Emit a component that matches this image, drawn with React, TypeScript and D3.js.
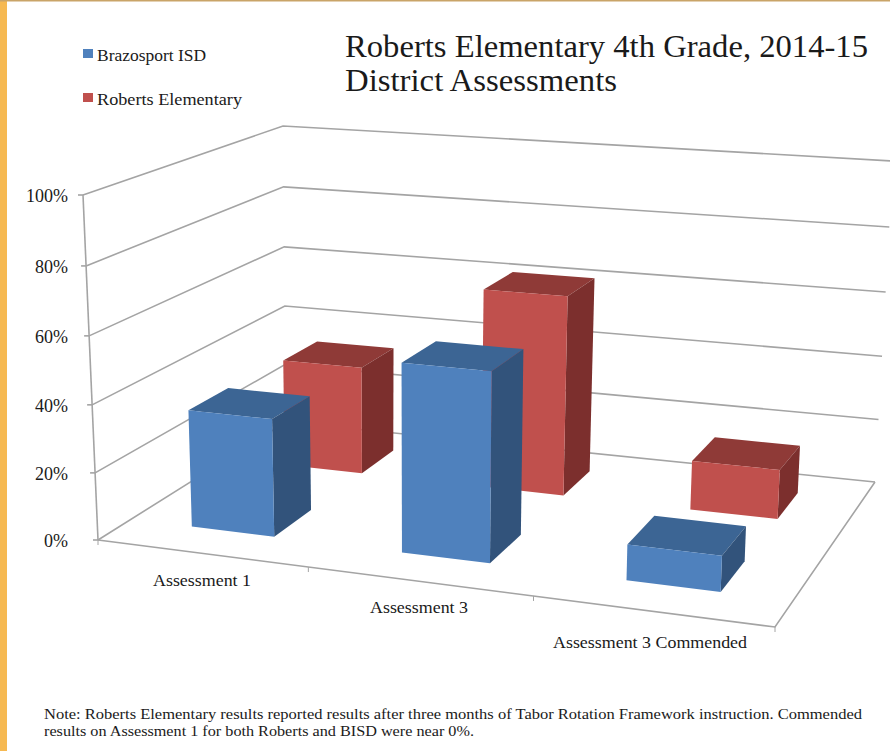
import React from "react";
import * as d3 from "d3";

const categories = ["Assessment 1", "Assessment 3", "Assessment 3 Commended"];
const seriesNames = ["Brazosport ISD", "Roberts Elementary"];
const brazosport = [35, 55, 10.2];
const roberts = [34, 61.8, 15];
const percentTicks = [0, 20, 40, 60, 80, 100];

type P = [number, number];
// Projection of the chart box: floor and ceiling quads [front-left, front-right, back-right, back-left]
const floorQuad: P[] = [[98, 540], [775, 627], [875, 482], [286, 422]];
const ceilQuad: P[] = [[83, 195], [790, 246], [893, 161], [283, 126]];

function homography(q: P[]) {
  const [[x0, y0], [x1, y1], [x2, y2], [x3, y3]] = q;
  const dx1 = x1 - x2, dx2 = x3 - x2, sx = x0 - x1 + x2 - x3;
  const dy1 = y1 - y2, dy2 = y3 - y2, sy = y0 - y1 + y2 - y3;
  const den = dx1 * dy2 - dx2 * dy1;
  const g = (sx * dy2 - dx2 * sy) / den;
  const h = (dx1 * sy - sx * dy1) / den;
  const a = x1 - x0 + g * x1, b = x3 - x0 + h * x3;
  const d = y1 - y0 + g * y1, e = y3 - y0 + h * y3;
  return (u: number, v: number): P => {
    const w = g * u + h * v + 1;
    return [(a * u + b * v + x0) / w, (d * u + e * v + y0) / w];
  };
}
const H0 = homography(floorQuad);
const H1 = homography(ceilQuad);

const heightScale = d3.scaleLinear().domain([0, 100]).range([0, 1]);
const uScale = d3.scaleBand<string>().domain(categories).range([0, 1]).paddingInner(0.6).paddingOuter(0.3);
const vScale = d3.scaleBand<string>().domain(seriesNames).range([0.006, 1.006]).paddingInner(0.6).paddingOuter(0.3);

function project(uRaw: number, v: number, value: number): P {
  const u = uRaw + 0.02 * uRaw * (1 - uRaw);
  const a = H0(u, v), b = H1(u, v);
  const s = heightScale(value);
  const t = s / (1 + 0.035 * (1 - s));
  return [a[0] + (b[0] - a[0]) * t, a[1] + (b[1] - a[1]) * t];
}
const line = d3.line<P>();
const poly = (pts: P[]) => line(pts) + "Z";

const SERIF = "'Liberation Serif', serif";
const GRID = "#a4a4a4";
const palette = [
  { front: "#4f81bd", top: "#3c6594", side: "#32537b" },
  { front: "#c0504d", top: "#8f3a37", side: "#7c2f2d" },
];

function Bar({ cat, series, value }: { cat: string; series: number; value: number }) {
  const u0 = uScale(cat)!, u1 = u0 + uScale.bandwidth();
  const v0 = vScale(seriesNames[series])!, v1 = v0 + vScale.bandwidth();
  const c = palette[series];
  return (
    <g>
      <path d={poly([project(u0, v0, value), project(u1, v0, value), project(u1, v1, value), project(u0, v1, value)])} fill={c.top} />
      <path d={poly([project(u1, v0, 0), project(u1, v1, 0), project(u1, v1, value), project(u1, v0, value)])} fill={c.side} />
      <path d={poly([project(u0, v0, 0), project(u1, v0, 0), project(u1, v0, value), project(u0, v0, value)])} fill={c.front} />
    </g>
  );
}

function Txt(p: { x: number; y: number; size: number; len: number; children: string; anchor?: string }) {
  return (
    <text x={p.x} y={p.y} fontSize={p.size} fontFamily={SERIF} fill="#1a1a1a" textLength={p.len} lengthAdjust="spacingAndGlyphs" textAnchor={p.anchor ?? "start"}>
      {p.children}
    </text>
  );
}

export default function App() {
  const uTicks = [1 / 3, 2 / 3];
  return (
    <svg width={890} height={751} style={{ position: "absolute", left: 0, top: 0, display: "block" }}>
      <rect width={890} height={751} fill="#ffffff" />
      <rect x={0} y={0} width={7} height={751} fill="#f6b952" />
      <rect x={0} y={0} width={890} height={1.5} fill="#c9a468" />

      {/* walls */}
      <g fill="none" stroke={GRID} strokeWidth={1.6}>
        {percentTicks.map((t) => (
          <path key={t} d={line([project(0, 0, t), project(0, 1, t), project(1, 1, t)])!} />
        ))}
        <path d={line([project(0, 0, 0), project(0, 0, 100)])!} />
        <path d={line([project(0, 0, 0), project(1, 0, 0), project(1, 1, 0)])!} />
        {percentTicks.map((t) => {
          const [x, y] = project(0, 0, t);
          return <path key={t} d={`M${x - 5},${y}H${x}`} />;
        })}
        {[0, ...uTicks, 1].map((u) => {
          const [x, y] = project(u, 0, 0);
          return <path key={u} d={`M${x},${y}V${y + 5}`} strokeWidth={1} />;
        })}
      </g>

      {/* bars, back row first */}
      {categories.map((c, i) => <Bar key={c} cat={c} series={1} value={roberts[i]} />)}
      {categories.map((c, i) => <Bar key={c} cat={c} series={0} value={brazosport[i]} />)}

      {/* value labels */}
      {percentTicks.map((t) => {
        const [x, y] = project(0, 0, t);
        return (
          <text key={t} x={68} y={y + 7} fontSize={18} fontFamily={SERIF} fill="#1a1a1a" textAnchor="end">
            {d3.format("d")(t)}%
          </text>
        );
      })}

      {/* category labels */}
      <Txt x={153} y={586} size={17} len={98}>{categories[0]}</Txt>
      <Txt x={370} y={613} size={17} len={98}>{categories[1]}</Txt>
      <Txt x={553} y={648} size={17} len={194}>{categories[2]}</Txt>

      {/* legend */}
      <rect x={83} y={49} width={10} height={9} fill={palette[0].front} />
      <Txt x={97} y={61} size={17} len={109}>{seriesNames[0]}</Txt>
      <rect x={83} y={93} width={10} height={9} fill={palette[1].front} />
      <Txt x={97} y={105} size={17} len={145}>{seriesNames[1]}</Txt>

      {/* title */}
      <Txt x={345} y={57} size={32} len={523}>Roberts Elementary 4th Grade, 2014-15</Txt>
      <Txt x={345} y={91} size={32} len={272}>District Assessments</Txt>

      {/* note */}
      <Txt x={44} y={719} size={14.5} len={818}>Note: Roberts Elementary results reported results after three months of Tabor Rotation Framework instruction. Commended</Txt>
      <Txt x={44} y={736} size={14.5} len={430}>results on Assessment 1 for both Roberts and BISD were near 0%.</Txt>
    </svg>
  );
}
